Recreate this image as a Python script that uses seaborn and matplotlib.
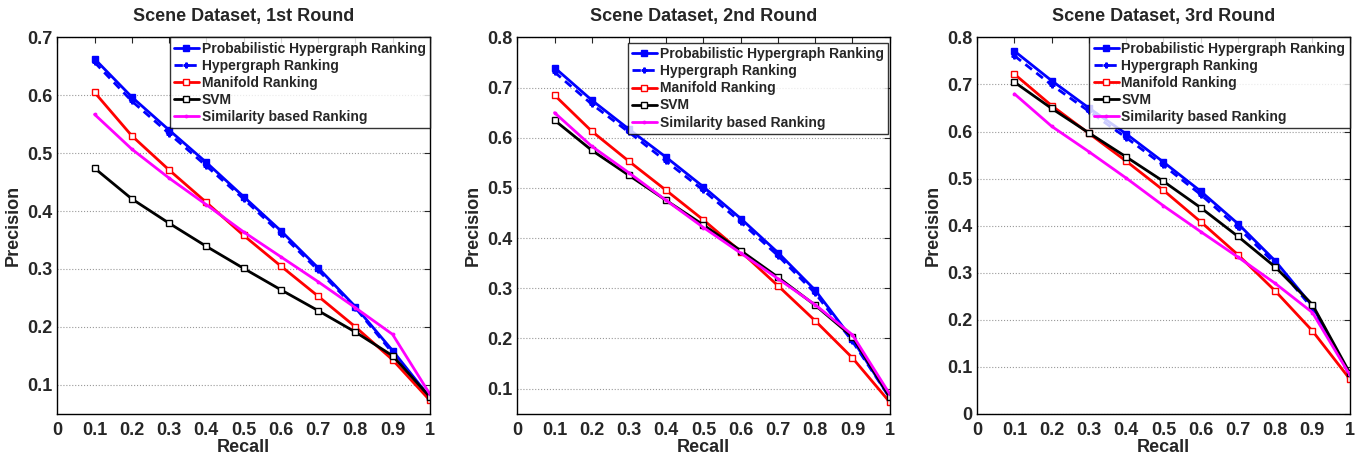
import numpy as np
import pandas as pd
import matplotlib
matplotlib.use('Agg')
import matplotlib.pyplot as plt
import seaborn as sns

# Recall levels (shared by all panels)
recall = [0.1, 0.2, 0.3, 0.4, 0.5, 0.6, 0.7, 0.8, 0.9, 1.0]

methods = ['Probabilistic Hypergraph Ranking', 'Hypergraph Ranking',
           'Manifold Ranking', 'SVM', 'Similarity based Ranking']

# Round 1
r1_phr = [0.663, 0.597, 0.540, 0.484, 0.425, 0.366, 0.302, 0.235, 0.159, 0.078]
r1_hr = [0.657, 0.590, 0.534, 0.478, 0.421, 0.361, 0.298, 0.233, 0.155, 0.078]
r1_mr = [0.605, 0.530, 0.471, 0.415, 0.358, 0.305, 0.253, 0.200, 0.143, 0.073]
r1_svm = [0.474, 0.421, 0.379, 0.339, 0.301, 0.264, 0.228, 0.191, 0.150, 0.079]
r1_sim = [0.567, 0.507, 0.457, 0.411, 0.364, 0.321, 0.278, 0.233, 0.187, 0.084]

# Round 2
r2_phr = [0.740, 0.675, 0.617, 0.561, 0.502, 0.439, 0.371, 0.296, 0.198, 0.082]
r2_hr = [0.731, 0.667, 0.611, 0.553, 0.495, 0.432, 0.365, 0.290, 0.194, 0.082]
r2_mr = [0.685, 0.613, 0.553, 0.495, 0.436, 0.373, 0.305, 0.235, 0.161, 0.073]
r2_svm = [0.635, 0.575, 0.525, 0.475, 0.426, 0.375, 0.322, 0.266, 0.203, 0.083]
r2_sim = [0.650, 0.583, 0.530, 0.475, 0.421, 0.370, 0.319, 0.267, 0.207, 0.089]

# Round 3
r3_phr = [0.771, 0.708, 0.650, 0.595, 0.535, 0.473, 0.404, 0.325, 0.229, 0.083]
r3_hr = [0.761, 0.699, 0.643, 0.587, 0.528, 0.466, 0.396, 0.319, 0.224, 0.083]
r3_mr = [0.722, 0.655, 0.596, 0.537, 0.475, 0.408, 0.338, 0.261, 0.176, 0.074]
r3_svm = [0.705, 0.649, 0.597, 0.546, 0.494, 0.438, 0.377, 0.312, 0.232, 0.087]
r3_sim = [0.680, 0.611, 0.557, 0.501, 0.442, 0.387, 0.333, 0.277, 0.215, 0.083]

rounds = [
    ('Scene Dataset, 1st Round', [r1_phr, r1_hr, r1_mr, r1_svm, r1_sim], (0.05, 0.7)),
    ('Scene Dataset, 2nd Round', [r2_phr, r2_hr, r2_mr, r2_svm, r2_sim], (0.05, 0.8)),
    ('Scene Dataset, 3rd Round', [r3_phr, r3_hr, r3_mr, r3_svm, r3_sim], (0.0, 0.8)),
]

# line styles per method
styles = {
    'Probabilistic Hypergraph Ranking': dict(color='#0000ff', ls='-', marker='s', ms=4, mfc='#0000ff'),
    'Hypergraph Ranking': dict(color='#0000ff', ls=(0, (3, 2)), marker='P', ms=3.5, mfc='#0000ff'),
    'Manifold Ranking': dict(color='#ff0000', ls='-', marker='s', ms=4.5, mfc='white'),
    'SVM': dict(color='black', ls='-', marker='s', ms=4.5, mfc='white'),
    'Similarity based Ranking': dict(color='#ff00ff', ls='-', marker='.', ms=3.5, mfc='#ff00ff'),
}

sns.set_style('white')
plt.rcParams['font.family'] = ['Liberation Sans', 'DejaVu Sans']
plt.rcParams['font.weight'] = 'bold'

fig, axes = plt.subplots(1, 3, figsize=(13.66, 4.57), dpi=100)
plt.subplots_adjust(left=0.042, right=0.988, top=0.918, bottom=0.095, wspace=0.235)

for i, (ax, (title, series, ylim)) in enumerate(zip(axes, rounds)):
    df = pd.DataFrame({
        'Recall': np.tile(recall, len(methods)),
        'Precision': np.concatenate(series),
        'Method': np.repeat(methods, len(recall)),
    })
    for m in methods:
        st = styles[m]
        sns.lineplot(data=df[df['Method'] == m], x='Recall', y='Precision', ax=ax,
                     color=st['color'], linestyle=st['ls'], marker=st['marker'],
                     markersize=st['ms'], markerfacecolor=st['mfc'],
                     markeredgecolor=st['color'], markeredgewidth=1.0,
                     linewidth=2, label=m)
    ax.set_xlim(0, 1)
    ax.set_ylim(*ylim)
    ax.set_xticks(np.arange(0, 1.01, 0.1))
    ax.set_xticklabels(['0'] + ['%.1f' % v for v in np.arange(0.1, 0.95, 0.1)] + ['1'])
    ax.yaxis.set_major_locator(matplotlib.ticker.MultipleLocator(0.1))
    ax.yaxis.set_major_formatter(matplotlib.ticker.FuncFormatter(
        lambda v, p: '0' if abs(v) < 1e-9 else '%.1f' % v))
    ax.grid(axis='y', color='#999999', linestyle=':', linewidth=0.8)
    ax.tick_params(direction='in', top=True, right=True, length=4, labelsize=13)
    ax.tick_params(axis='x', pad=6)
    for lab in ax.get_xticklabels() + ax.get_yticklabels():
        lab.set_fontweight('bold')
    for sp in ax.spines.values():
        sp.set_color('black')
        sp.set_linewidth(1)
    ax.set_title(title, fontsize=13, fontweight='bold', pad=12)
    ax.set_xlabel('Recall', fontsize=13, fontweight='bold', labelpad=0)
    ax.set_ylabel('Precision', fontsize=13, fontweight='bold', labelpad=4)
    anchor = (0.995, 0.985) if i == 1 else (1.0, 1.0)
    leg = ax.legend(loc='upper right', bbox_to_anchor=anchor, fontsize=10, frameon=True,
                    fancybox=False, handlelength=1.8, handletextpad=0.2,
                    labelspacing=0.22, borderpad=0.3, borderaxespad=0.0)
    leg.get_frame().set_edgecolor('black')
    leg.get_frame().set_linewidth(1)
    for t in leg.get_texts():
        t.set_fontweight('bold')

plt.savefig('out.png', dpi=100)
